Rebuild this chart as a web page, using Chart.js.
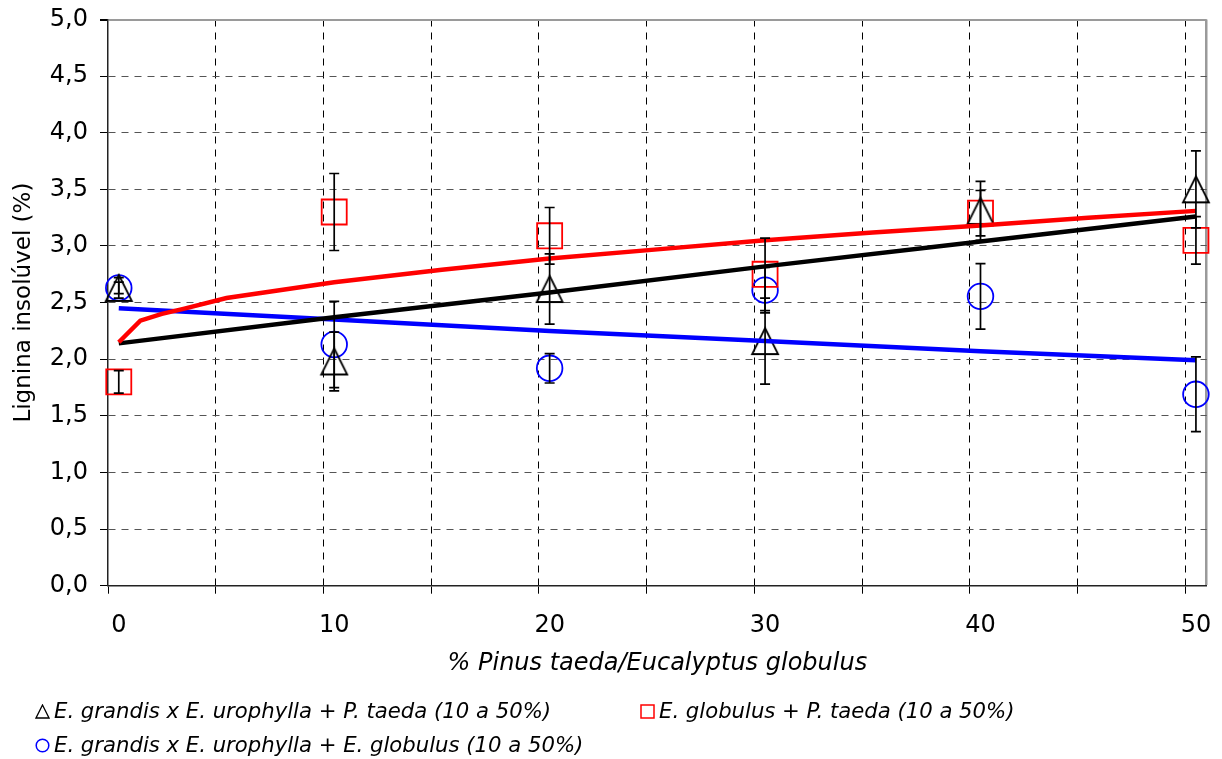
<!DOCTYPE html>
<html><head><meta charset="utf-8">
<script src="https://cdn.jsdelivr.net/npm/chart.js@4"></script>
<style>
body{margin:0;background:#fff;}
#wrap{position:relative;width:1222px;height:759px;overflow:hidden;}
#c{position:absolute;left:0;top:0;}
.leg{position:absolute;font-family:"DejaVu Sans";font-style:italic;font-size:21.2px;color:#000;white-space:nowrap;line-height:24px;}
.leg svg{vertical-align:-1px;margin-right:4px;}
</style></head><body>
<div id="wrap"><canvas id="c" width="1222" height="759"></canvas>
<div class="leg" style="left:35px;top:699px"><svg width="15" height="15"><polygon points="7.5,1 14,14 1,14" fill="none" stroke="#000" stroke-width="1.3"/></svg>E. grandis x E. urophylla + P. taeda (10 a 50%)</div>
<div class="leg" style="left:640px;top:699px"><svg width="15" height="15"><rect x="1" y="1" width="13" height="13" fill="none" stroke="#f00" stroke-width="1.5"/></svg>E. globulus + P. taeda (10 a 50%)</div>
<div class="leg" style="left:35px;top:733px"><svg width="15" height="15"><circle cx="7.5" cy="7.5" r="6.3" fill="none" stroke="#00f" stroke-width="1.5"/></svg>E. grandis x E. urophylla + E. globulus (10 a 50%)</div>
</div>
<script>
// ---- data ----
const categories = [0, 10, 20, 30, 40, 50];
const xTickLabels = ['0', '10', '20', '30', '40', '50'];
const xGridValues = [-0.5, 4.5, 9.5, 14.5, 19.5, 24.5, 29.5, 34.5, 39.5, 44.5, 49.5, 50.5];

const triValues = [2.63, 1.98, 2.62, 2.16, 3.31, 3.50];
const triErrors = [0.09, 0.26, 0.31, 0.38, 0.26, 0.34];
const sqValues = [1.80, 3.30, 3.09, 2.75, 3.29, 3.05];
const sqErrors = [0.10, 0.34, 0.25, 0.32, 0.20, 0.21];
const circValues = [2.63, 2.13, 1.92, 2.61, 2.555, 1.69];
const circErrors = [0.05, 0.38, 0.13, 0.20, 0.29, 0.33];

const redTrendX = [0, 1, 2, 3, 5, 10, 15, 20, 25, 30, 35, 40, 45, 50];
const redTrendY = [2.15, 2.34, 2.40, 2.445, 2.54, 2.68, 2.79, 2.89, 2.97, 3.05, 3.12, 3.18, 3.25, 3.31];
const blackTrendX = [0, 10, 20, 30, 40, 50];
const blackTrendY = [2.14, 2.37, 2.59, 2.82, 3.04, 3.26];
const blueTrendX = [0, 10, 20, 30, 40, 50];
const blueTrendY = [2.45, 2.35, 2.25, 2.16, 2.07, 1.99];

const legendNames = [
  'E. grandis x E. urophylla + P. taeda (10 a 50%)',
  'E. globulus + P. taeda (10 a 50%)',
  'E. grandis x E. urophylla + E. globulus (10 a 50%)'
];

// ---- helpers ----
const pts = (xs, ys) => xs.map((x, i) => ({x: x, y: ys[i]}));
function makeTri(size, lw, color) {
  const s = size + 4;
  const c = document.createElement('canvas'); c.width = s; c.height = s;
  const g = c.getContext('2d'); g.strokeStyle = color; g.lineWidth = lw; g.lineJoin = 'miter';
  g.beginPath(); g.moveTo(s / 2, 2); g.lineTo(s - 2, s - 2); g.lineTo(2, s - 2); g.closePath(); g.stroke();
  return c;
}
const FONT = 'DejaVu Sans';

const errorBars = {
  id: 'errorBars',
  afterDatasetsDraw(chart) {
    const {ctx, scales: {x, y}} = chart;
    ctx.save();
    ctx.strokeStyle = '#000'; ctx.lineWidth = 1.7;
    chart.data.datasets.forEach((ds, di) => {
      if (!ds.errors || !chart.isDatasetVisible(di)) return;
      ds.data.forEach((p, i) => {
        const e = ds.errors[i];
        const px = x.getPixelForValue(p.x);
        const yt = y.getPixelForValue(p.y + e), yb = y.getPixelForValue(p.y - e);
        ctx.beginPath();
        ctx.moveTo(px, yt); ctx.lineTo(px, yb);
        ctx.moveTo(px - 5, yt); ctx.lineTo(px + 5, yt);
        ctx.moveTo(px - 5, yb); ctx.lineTo(px + 5, yb);
        ctx.stroke();
      });
    });
    ctx.restore();
  }
};

const isRight = c => c.tick && c.tick.value > 50;
const isLeft = c => c.tick && c.tick.value < 0;

new Chart(document.getElementById('c'), {
  type: 'scatter',
  data: {
    datasets: [
      {label: 'red trend', data: pts(redTrendX, redTrendY), showLine: true, borderColor: '#ff0000', borderWidth: 4.5, pointRadius: 0, tension: 0},
      {label: 'black trend', data: pts(blackTrendX, blackTrendY), showLine: true, borderColor: '#000000', borderWidth: 4.5, pointRadius: 0, tension: 0},
      {label: 'blue trend', data: pts(blueTrendX, blueTrendY), showLine: true, borderColor: '#0000ff', borderWidth: 4.5, pointRadius: 0, tension: 0},
      {label: legendNames[0], data: pts(categories, triValues), errors: triErrors, pointStyle: makeTri(26, 1.8, '#000'), pointRadius: 13, showLine: false, clip: false},
      {label: legendNames[1], data: pts(categories, sqValues), errors: sqErrors, pointStyle: 'rect', pointRadius: 17.7, pointBorderColor: '#ff0000', pointBackgroundColor: 'rgba(0,0,0,0)', pointBorderWidth: 1.8, showLine: false, clip: false},
      {label: legendNames[2], data: pts(categories, circValues), errors: circErrors, pointStyle: 'circle', pointRadius: 12.8, pointBorderColor: '#0000ff', pointBackgroundColor: 'rgba(0,0,0,0)', pointBorderWidth: 1.8, showLine: false, clip: false}
    ]
  },
  options: {
    responsive: false, animation: false, devicePixelRatio: 1,
    layout: {autoPadding: false, padding: {left: 0, top: 19.5, right: 15.3, bottom: 73.3}},
    plugins: {legend: {display: false}, tooltip: {enabled: false}},
    scales: {
      x: {
        type: 'linear', min: -0.5, max: 50.5,
        afterBuildTicks: s => { s.ticks = xGridValues.map(v => ({value: v})); },
        afterFit: s => { s.height = 100; s.paddingLeft = 0; s.paddingRight = 0; },
        grid: {
          color: c => isRight(c) ? '#9a9a9a' : (isLeft(c) ? 'rgba(0,0,0,0)' : '#000'),
          lineWidth: c => isRight(c) ? 2.5 : 1,
          tickLength: 8, tickColor: c => isRight(c) ? 'rgba(0,0,0,0)' : '#000',
          tickBorderDash: [], tickWidth: 1
        },
        border: {color: '#222', width: 1.5, dash: c => isRight(c) ? [] : [7, 6]},
        ticks: {
          autoSkip: false, maxRotation: 0, minRotation: 0, labelOffset: 10.8, padding: 18,
          color: '#000', font: {family: FONT, size: 24},
          callback: v => {
            const k = (v + 0.5) / 10;
            return (Number.isInteger(k) && k < xTickLabels.length && v < 50) ? xTickLabels[k] : '';
          }
        },
        title: {display: true, text: '% Pinus taeda/Eucalyptus globulus', color: '#000',
          font: {family: FONT, size: 24, style: 'italic'}, padding: {top: 0, bottom: 8}}
      },
      y: {
        min: 0, max: 5,
        afterFit: s => { s.width = 108; s.paddingTop = 0; s.paddingBottom = 0; },
        ticks: {stepSize: 0.5, padding: 12, color: '#000', font: {family: FONT, size: 24},
          callback: v => Number(v).toFixed(1).replace('.', ',')},
        grid: {
          color: c => (c.tick && c.tick.value >= 5) ? '#9a9a9a' : '#555',
          lineWidth: c => (c.tick && c.tick.value >= 5) ? 2 : 1,
          tickLength: 8, tickColor: '#000', tickBorderDash: []
        },
        border: {color: '#222', width: 1.5, dash: c => (c.tick && c.tick.value >= 5) ? [] : [7, 6]},
        title: {display: true, text: 'Lignina insolúvel (%)', color: '#000',
          font: {family: FONT, size: 23}, padding: {top: 10, bottom: 0}}
      }
    }
  },
  plugins: [errorBars]
});
</script>
</body></html>
